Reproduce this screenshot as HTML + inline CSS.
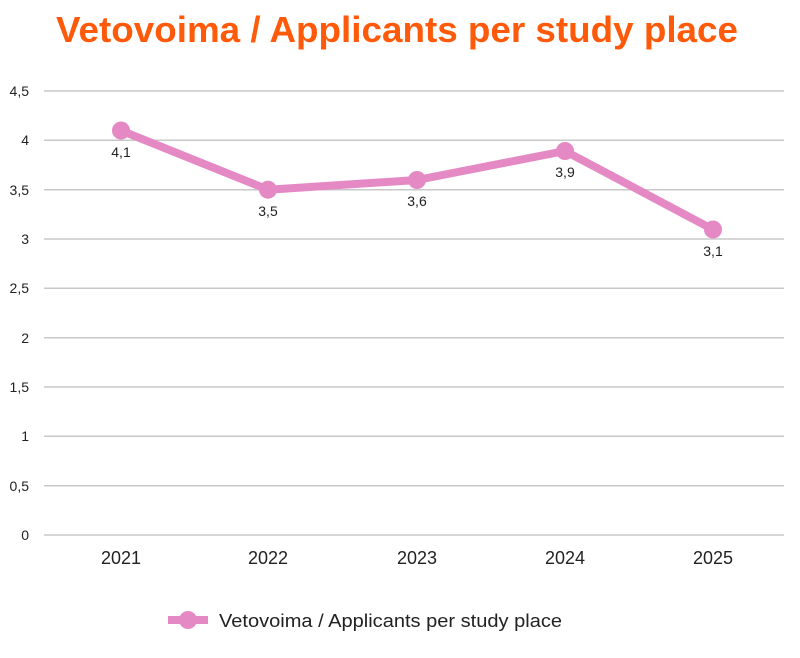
<!DOCTYPE html>
<html><head><style>
body{margin:0;background:#fff;width:800px;height:653px;overflow:hidden}
</style></head><body>
<svg width="800" height="653" xmlns="http://www.w3.org/2000/svg" font-family="Liberation Sans, sans-serif">
<text x="56" y="42" font-size="36" font-weight="bold" fill="#ff5a0a" textLength="682" lengthAdjust="spacingAndGlyphs">Vetovoima / Applicants per study place</text>
<g stroke="#c8c8c8" stroke-width="1.5">
<line x1="44" x2="784" y1="91" y2="91"/><line x1="44" x2="784" y1="140.3" y2="140.3"/>
<line x1="44" x2="784" y1="189.7" y2="189.7"/><line x1="44" x2="784" y1="239" y2="239"/>
<line x1="44" x2="784" y1="288.3" y2="288.3"/><line x1="44" x2="784" y1="337.7" y2="337.7"/>
<line x1="44" x2="784" y1="387" y2="387"/><line x1="44" x2="784" y1="436.3" y2="436.3"/>
<line x1="44" x2="784" y1="485.7" y2="485.7"/><line x1="44" x2="784" y1="535" y2="535"/>
</g>
<g font-size="14" fill="#222" text-anchor="end">
<text x="29" y="96">4,5</text><text x="29" y="145">4</text><text x="29" y="195">3,5</text>
<text x="29" y="244">3</text><text x="29" y="293">2,5</text><text x="29" y="343">2</text>
<text x="29" y="392">1,5</text><text x="29" y="441">1</text><text x="29" y="491">0,5</text>
<text x="29" y="540">0</text>
</g>
<g font-size="18" fill="#222" text-anchor="middle">
<text x="121" y="564">2021</text><text x="268" y="564">2022</text><text x="417" y="564">2023</text>
<text x="565" y="564">2024</text><text x="713" y="564">2025</text>
</g>
<polyline points="121,130.5 268,189.7 417,180 565,151 713,229.5" fill="none" stroke="#e589c5" stroke-width="8" stroke-linejoin="round"/>
<g fill="#e589c5">
<circle cx="121" cy="130.5" r="9"/><circle cx="268" cy="189.7" r="9"/><circle cx="417" cy="180" r="9"/>
<circle cx="565" cy="151" r="9"/><circle cx="713" cy="229.5" r="9"/>
</g>
<g font-size="14" fill="#222" text-anchor="middle">
<text x="121" y="157">4,1</text><text x="268" y="216">3,5</text><text x="417" y="206">3,6</text>
<text x="565" y="177">3,9</text><text x="713" y="256">3,1</text>
</g>
<line x1="168" x2="208" y1="620" y2="620" stroke="#e589c5" stroke-width="8"/>
<circle cx="188" cy="620" r="9" fill="#e589c5"/>
<text x="219" y="627" font-size="18" fill="#222" textLength="343" lengthAdjust="spacingAndGlyphs">Vetovoima / Applicants per study place</text>
</svg>
</body></html>
